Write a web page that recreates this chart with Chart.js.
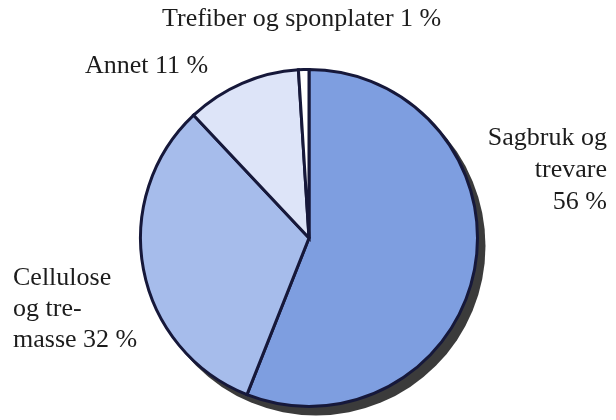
<!DOCTYPE html>
<html>
<head>
<meta charset="utf-8">
<title>Trefiber</title>
<script src="https://cdn.jsdelivr.net/npm/chart.js@4.4.0/dist/chart.umd.min.js"></script>
<style>
  body { margin: 0; background: #ffffff; }
  #wrap { width: 616px; height: 420px; }
</style>
</head>
<body>
<div id="wrap"><canvas id="pie_chart" width="616" height="420"></canvas></div>
<script>
const categories = ['Sagbruk og trevare', 'Cellulose og tremasse', 'Annet', 'Trefiber og sponplater'];
const shares = [56, 32, 11, 1];
const sliceColors = ['#7e9ee0', '#a6bceb', '#dde4f8', '#ffffff'];

// label text lines per slice (as printed in the figure)
const labelLines = [
    ['Sagbruk og', 'trevare', '56 %'],
    ['Cellulose', 'og tre-', 'masse 32 %'],
    ['Annet 11 %'],
    ['Trefiber og sponplater 1 %']
];

// where each label block sits: x, first baseline, line step, alignment
const labelPlace = [
    { x: 607, y: 145, step: 32, align: 'right' },
    { x: 13, y: 285, step: 31, align: 'left' },
    { x: 85, y: 73, step: 30, align: 'left' },
    { x: 162, y: 26, step: 30, align: 'left' }
];

const shadowPlugin = {
    id: 'pieShadow',
    beforeDatasetsDraw(chart) {
        const arc = chart.getDatasetMeta(0).data[0];
        if (!arc) return;
        const ctx = chart.ctx;
        ctx.save();
        ctx.fillStyle = '#3b3b3b';
        ctx.beginPath();
        ctx.arc(arc.x + 7, arc.y + 8, arc.outerRadius + 1, 0, Math.PI * 2);
        ctx.fill();
        ctx.restore();
    }
};

const labelPlugin = {
    id: 'sliceLabels',
    afterDraw(chart) {
        const ctx = chart.ctx;
        ctx.save();
        ctx.fillStyle = '#1c1c1c';
        ctx.font = '26px "Liberation Serif", "DejaVu Serif", serif';
        ctx.textBaseline = 'alphabetic';
        labelLines.forEach((lines, i) => {
            const p = labelPlace[i];
            ctx.textAlign = p.align;
            lines.forEach((line, j) => {
                ctx.fillText(line, p.x, p.y + j * p.step);
            });
        });
        ctx.restore();
    }
};

const data = {
    labels: categories,
    datasets: [
        {
            data: shares,
            backgroundColor: sliceColors,
            borderColor: '#16183a',
            borderWidth: 3,
            borderJoinStyle: 'miter'
        }
    ]
};

const config = {
    type: 'pie',
    data: data,
    options: {
        responsive: false,
        animation: false,
        layout: {
            padding: { top: 68, bottom: 12, left: 139, right: 137 }
        },
        plugins: {
            legend: { display: false },
            tooltip: { enabled: false }
        }
    },
    plugins: [shadowPlugin, labelPlugin]
};

new Chart(document.getElementById('pie_chart'), config);
</script>
</body>
</html>
